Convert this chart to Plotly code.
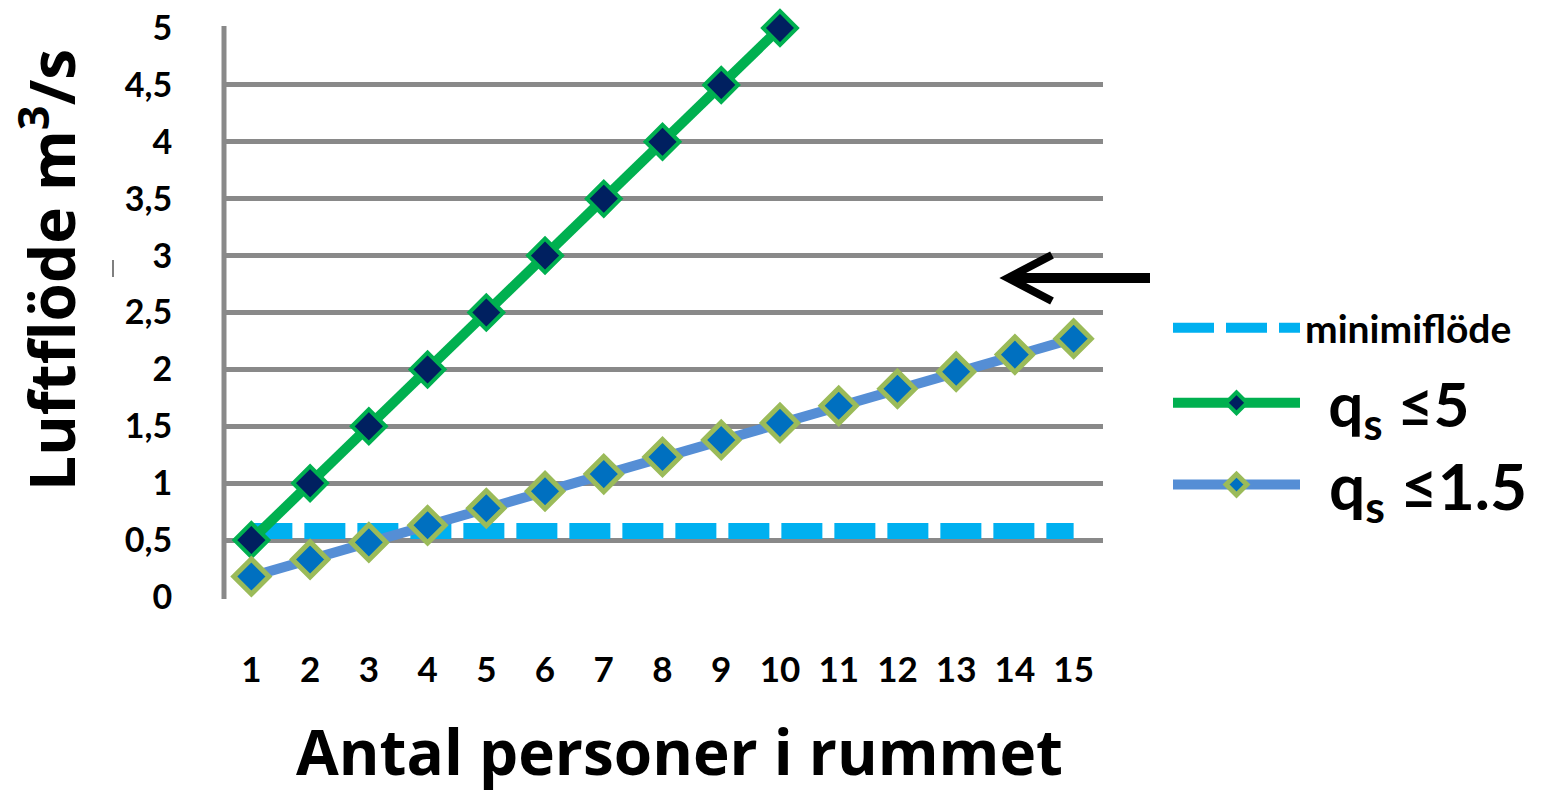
import plotly.graph_objects as go

# Number of people in the room
persons = list(range(1, 16))

# Air flow (m3/s) per series
min_flow = [0.58] * 15
flow_qs5 = [0.5, 1.0, 1.5, 2.0, 2.5, 3.0, 3.5, 4.0, 4.5, 5.0]
flow_qs15 = [0.18, 0.33, 0.48, 0.63, 0.78, 0.93, 1.08, 1.23, 1.38, 1.53,
             1.68, 1.83, 1.98, 2.13, 2.27]

y_tickvals = [0, 0.5, 1, 1.5, 2, 2.5, 3, 3.5, 4, 4.5, 5]
y_ticktext = ["0", "0,5", "1", "1,5", "2", "2,5", "3", "3,5", "4", "4,5", "5"]

W, H = 1547, 793
L, R, T, B = 222, 444, 28, 196
PW, PH = W - L - R, H - T - B


def px(x):
    return (x - L) / PW


def py(y):
    return (H - B - y) / PH


FONT = "Lato, 'Open Sans', sans-serif"
TITLE_FONT = "'Open Sans', Lato, sans-serif"
GRID = "#898989"

fig = go.Figure()

fig.add_trace(go.Scatter(
    x=persons, y=min_flow, mode="lines",
    name="minimiflöde",
    line=dict(color="#00B0F0", width=16, dash="41px,12px"),
    legend="legend",
))
fig.add_trace(go.Scatter(
    x=persons[:len(flow_qs5)], y=flow_qs5, mode="lines+markers",
    name="\u2009\u2009\u2009q<sub>s</sub> ≤5",
    line=dict(color="#00B050", width=10),
    marker=dict(symbol="diamond", size=26, color="#002060",
                line=dict(color="#00B050", width=4)),
    cliponaxis=False, legend="legend2",
))
fig.add_trace(go.Scatter(
    x=persons, y=flow_qs15, mode="lines+markers",
    name="\u2009\u2009\u2009q<sub>s</sub> ≤1.5",
    line=dict(color="#558ED5", width=10),
    marker=dict(symbol="diamond", size=27, color="#0070C0",
                line=dict(color="#9BBB59", width=5)),
    cliponaxis=False, legend="legend3",
))


def legend_box(ypix, size):
    return dict(
        x=px(1168), y=py(ypix), xanchor="left", yanchor="middle",
        itemwidth=127, bgcolor="rgba(0,0,0,0)",
        font=dict(family=FONT, size=size, color="black", weight="bold"),
    )


fig.update_layout(
    width=W, height=H,
    margin=dict(l=L, r=R, t=T, b=B, pad=0, autoexpand=False),
    paper_bgcolor="white", plot_bgcolor="white",
    font=dict(family=FONT, color="black", weight="bold"),
    showlegend=True,
    legend=legend_box(328, 39),
    legend2=legend_box(403, 62),
    legend3=legend_box(485, 64),
    xaxis=dict(
        range=[0.5, 15.5], tickmode="array", tickvals=persons,
        ticktext=[str(p) for p in persons],
        showgrid=False, zeroline=False, showline=False, automargin=False,
        ticks="outside", ticklen=42, tickcolor="rgba(0,0,0,0)",
        tickfont=dict(family=FONT, size=35, weight="bold"),
    ),
    yaxis=dict(
        range=[0, 5], tickmode="array", tickvals=y_tickvals,
        ticktext=y_ticktext,
        showgrid=True, gridcolor=GRID, gridwidth=5,
        zeroline=False, showline=False, automargin=False,
        ticks="outside", ticklen=42, tickcolor="rgba(0,0,0,0)",
        tickfont=dict(family=FONT, size=34, weight="bold"),
    ),
    annotations=[
        dict(text="Luftflöde m<sup>3</sup>/s", textangle=-90,
             xref="paper", yref="paper", x=px(48), y=py(270),
             xanchor="center", yanchor="middle", showarrow=False,
             font=dict(family=TITLE_FONT, size=62, weight="bold")),
        dict(text="Antal personer i rummet",
             xref="paper", yref="paper", x=px(679), y=py(751),
             xanchor="center", yanchor="middle", showarrow=False,
             font=dict(family=TITLE_FONT, size=62, weight="bold")),
    ],
    shapes=[
        # left axis line
        dict(type="line", xref="paper", yref="paper",
             x0=px(224), x1=px(224), y0=py(599), y1=py(26),
             line=dict(color=GRID, width=5)),
        # left-pointing arrow next to the legend
        dict(type="path", xref="paper", yref="paper",
             path=f"M {px(1150)},{py(278)} L {px(1010)},{py(278)}",
             line=dict(color="black", width=10)),
        dict(type="path", xref="paper", yref="paper",
             path=(f"M {px(1052)},{py(255)} L {px(1008)},{py(278)} "
                   f"L {px(1052)},{py(301)}"),
             line=dict(color="black", width=8)),
        dict(type="line", xref="paper", yref="paper",
             x0=px(113), x1=px(113), y0=py(260), y1=py(277),
             line=dict(color="#555555", width=1.5)),
    ],
)

fig.write_html("out.html")
